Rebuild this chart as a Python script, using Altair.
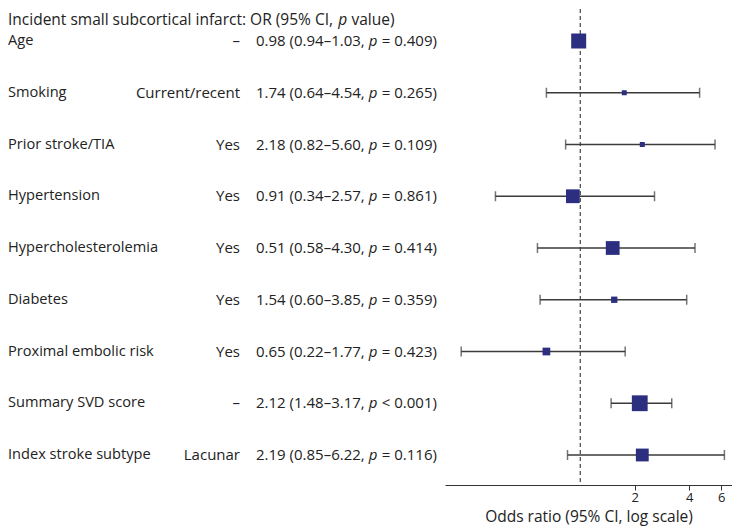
import altair as alt
import pandas as pd

# ---- data ----
labels = ["Age", "Smoking", "Prior stroke/TIA", "Hypertension", "Hypercholesterolemia",
          "Diabetes", "Proximal embolic risk", "Summary SVD score", "Index stroke subtype"]
levels = ["–", "Current/recent", "Yes", "Yes", "Yes", "Yes", "Yes", "–", "Lacunar"]
or_txt = ["0.98", "1.74", "2.18", "0.91", "0.51", "1.54", "0.65", "2.12", "2.19"]
lo_txt = ["0.94", "0.64", "0.82", "0.34", "0.58", "0.60", "0.22", "1.48", "0.85"]
hi_txt = ["1.03", "4.54", "5.60", "2.57", "4.30", "3.85", "1.77", "3.17", "6.22"]
p_txt = ["= 0.409)", "= 0.265)", "= 0.109)", "= 0.861)", "= 0.414)",
         "= 0.359)", "= 0.423)", "< 0.001)", "= 0.116)"]

# plotted positions as drawn in the picture
or_vals = [0.98, 1.75, 2.20, 0.91, 1.51, 1.54, 0.65, 2.13, 2.20]
lo_vals = [0.94, 0.65, 0.83, 0.34, 0.58, 0.60, 0.22, 1.48, 0.85]
hi_vals = [1.03, 4.56, 5.55, 2.57, 4.30, 3.87, 1.77, 3.20, 6.25]
weights = [225, 25, 25, 190, 190, 40, 60, 250, 165]

title_main = "Incident small subcortical infarct: OR (95% CI,"
title_end = "value)"
x_ticks = [2, 4, 6]
x_title = "Odds ratio (95% CI, log scale)"

df = pd.DataFrame({
    "row": list(range(len(labels))),
    "label": labels,
    "level": levels,
    "prefix": [f"{o} ({l}–{h}," for o, l, h in zip(or_txt, lo_txt, hi_txt)],
    "suffix": p_txt,
    "or": or_vals,
    "lo": lo_vals,
    "hi": hi_vals,
    "w": weights,
})

W, H = 287, 477
TXT = "#222222"
FS_L = 14.6
FS = 15
FS_T = 15.5

xs = alt.Scale(type="log", domain=[0.179, 6.885], nice=False)
ys = alt.Scale(domain=[-0.6377, 8.5797], reverse=True, nice=False, zero=False)

base = alt.Chart(df)
Y = alt.Y("row:Q", scale=ys, axis=None)

ref = alt.Chart(pd.DataFrame({"x": [1.0]})).mark_rule(
    strokeDash=[4, 3], color="#444444", strokeWidth=1.2
).encode(
    x=alt.X("x:Q", scale=xs,
            axis=alt.Axis(values=x_ticks, format="d", title=x_title, grid=False,
                          labelFontSize=13, labelColor=TXT, tickSize=5, tickColor="#333333",
                          domainColor="#333333", labelPadding=1, titleFontSize=15.5,
                          titleFontWeight="normal", titleColor=TXT, titlePadding=5)),
    y=alt.value(1), y2=alt.value(H),
)

ci = base.mark_rule(color="#3a3a3a", strokeWidth=1.5).encode(
    x=alt.X("lo:Q", scale=xs), x2="hi:Q", y=Y)

caps = base.transform_fold(["lo", "hi"], as_=["k", "v"]).mark_tick(
    orient="vertical", size=10, thickness=1.5, color="#3a3a3a"
).encode(x=alt.X("v:Q", scale=xs), y=Y)

sq = base.mark_square(color="#2c2f80", opacity=1, filled=True).encode(
    x=alt.X("or:Q", scale=xs), y=Y, size=alt.Size("w:Q", scale=None))

def txt(field, xpos, fs, align="left"):
    return base.mark_text(align=align, baseline="middle", fontSize=fs, color=TXT).encode(
        x=alt.value(xpos), y=Y, text=field)

P_X = -189 + 7.514 * FS
t_label = txt("label:N", -437, FS_L)
t_level = txt("level:N", -205, FS, align="right")
t_pref = txt("prefix:N", -189, FS)
t_p = base.mark_text(align="left", baseline="middle", fontSize=FS, color=TXT,
                     fontStyle="italic").encode(x=alt.value(P_X), y=Y, text=alt.value("p"))
t_suf = txt("suffix:N", P_X + 0.87 * FS, FS)

TP_X = -437 + 21.3 * FS_T
tdf = pd.DataFrame({"a": [title_main], "b": [title_end]})
tt = alt.Chart(tdf)
ti1 = tt.mark_text(align="left", baseline="alphabetic", fontSize=FS_T, color=TXT).encode(
    x=alt.value(-437), y=alt.value(17), text="a:N")
ti2 = tt.mark_text(align="left", baseline="alphabetic", fontSize=FS_T, color=TXT,
                   fontStyle="italic").encode(x=alt.value(TP_X), y=alt.value(17), text=alt.value("p"))
ti3 = tt.mark_text(align="left", baseline="alphabetic", fontSize=FS_T, color=TXT).encode(
    x=alt.value(TP_X + 0.86 * FS_T), y=alt.value(17), text="b:N")

chart = alt.layer(ref, ci, caps, sq, t_label, t_level, t_pref, t_p, t_suf, ti1, ti2, ti3).properties(
    width=W, height=H,
    autosize=alt.AutoSizeParams(type="none"),
    padding={"left": 437, "top": 0, "right": 0, "bottom": 43},
).configure(font="Open Sans").configure_view(strokeWidth=0)

chart.save("out.html", embed_options={"renderer": "svg", "actions": False})
